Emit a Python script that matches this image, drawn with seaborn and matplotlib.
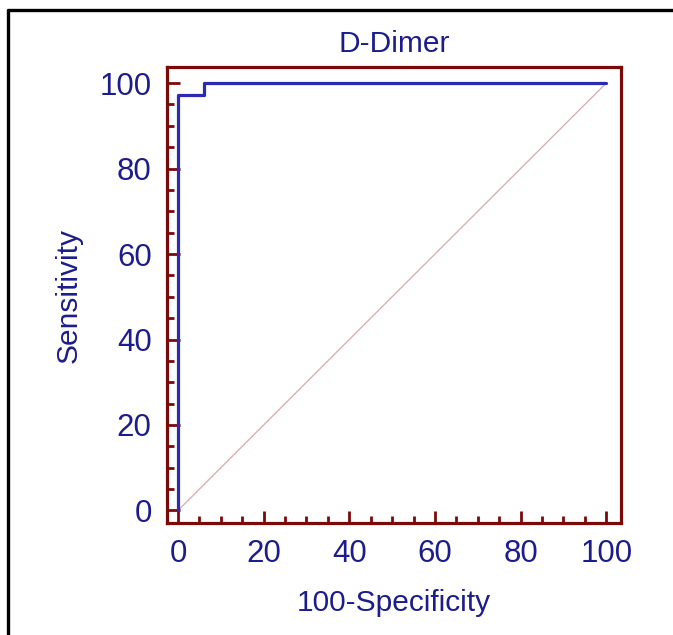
import numpy as np
import pandas as pd
import matplotlib
matplotlib.use("Agg")
import matplotlib.pyplot as plt
from matplotlib.lines import Line2D
from matplotlib.ticker import MultipleLocator
import seaborn as sns

# ROC curve points (100-Specificity, Sensitivity)
fpr = [0, 0, 6, 6, 100]
tpr = [0, 97.3, 97.3, 100, 100]
diag = [0, 100]

sns.set_style("white")
plt.rcParams["font.family"] = ["Liberation Sans", "DejaVu Sans"]

text_col = "#1c1c8c"
spine_col = "#7a0a0a"

fig = plt.figure(figsize=(6.73, 6.35), dpi=100)
ax = fig.add_axes([0.248, 0.176, 0.675, 0.718])

roc = pd.DataFrame({"fpr": fpr, "tpr": tpr})
sns.lineplot(data=roc, x="fpr", y="tpr", sort=False, estimator=None,
             color="#2a2ab4", linewidth=2.3, ax=ax)
sns.lineplot(x=diag, y=diag, sort=False, estimator=None,
             color="#dca8a8", linewidth=0.9, ax=ax, zorder=1)

ax.set_xlim(-2.6, 103.5)
ax.set_ylim(-3, 103.7)
ax.xaxis.set_major_locator(MultipleLocator(20))
ax.xaxis.set_minor_locator(MultipleLocator(5))
ax.yaxis.set_major_locator(MultipleLocator(20))
ax.yaxis.set_minor_locator(MultipleLocator(5))
ax.tick_params(which="both", direction="in", color=spine_col, width=2,
               labelcolor=text_col, labelsize=22.5, pad=11,
               bottom=True, left=True, top=False, right=False)
ax.tick_params(which="major", length=9)
ax.tick_params(which="minor", length=5)
for s in ax.spines.values():
    s.set_color(spine_col)
    s.set_linewidth(2.3)

ax.set_xlabel("100-Specificity", fontsize=21.5, color=text_col, labelpad=15)
ax.set_ylabel("Sensitivity", fontsize=21.5, color=text_col, labelpad=12)
ax.set_title("D-Dimer", fontsize=21.5, color=text_col, pad=11)

# outer black frame (top and left edges)
fig.add_artist(Line2D([0.012, 1.0], [0.985, 0.985], color="black", lw=2.4,
                      transform=fig.transFigure))
fig.add_artist(Line2D([0.012, 0.012], [0.0, 0.985], color="black", lw=2.4,
                      transform=fig.transFigure))

fig.savefig("out.png", dpi=100)
